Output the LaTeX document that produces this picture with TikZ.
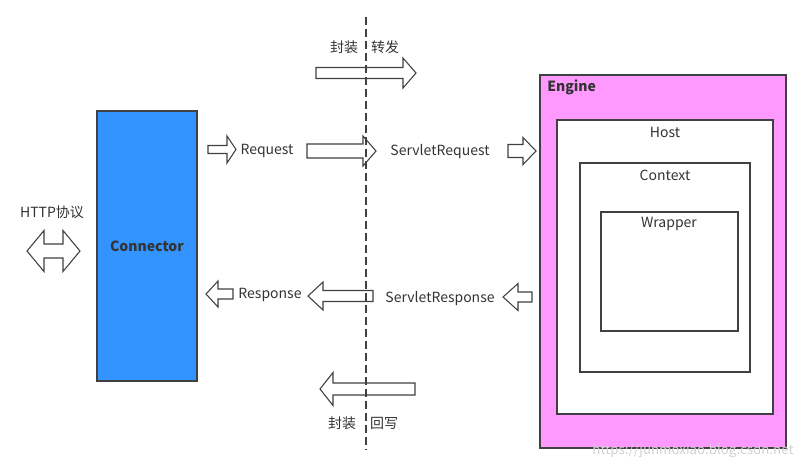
\documentclass[tikz,border=0pt]{standalone}
\usepackage{fontspec}
\setmainfont{Noto Sans CJK SC}
\usetikzlibrary{fit}
\definecolor{connblue}{HTML}{3393FF}
\definecolor{enginepink}{HTML}{FF99FF}
\definecolor{edgegray}{HTML}{404040}
\definecolor{txtgray}{HTML}{333333}
\newcommand{\blkarrow}[6]{%
  \draw[blockarr] (#1,{#4-#5}) -- (#2,{#4-#5}) -- (#2,{#4-#6}) -- (#3,#4) -- (#2,{#4+#6}) -- (#2,{#4+#5}) -- (#1,{#4+#5}) -- cycle;}
\begin{document}
\begin{tikzpicture}[x=0.75pt,y=-0.75pt,
  font=\fontsize{10.5pt}{12pt}\selectfont,
  box/.style={draw=edgegray,line width=1.1pt,inner sep=0pt},
  lbl/.style={text=txtgray,inner sep=0pt},
  blockarr/.style={draw=edgegray,line width=0.8pt,fill=white,line join=miter}]
\useasboundingbox (0,0) rectangle (812,469);
% boxes
\node[box,fill=connblue,fit={(97,111) (197,381)}] (conn) {};
\node[lbl,font=\fontsize{10.5pt}{12pt}\selectfont\bfseries] (connlbl) at (147,246) {Connector};
\node[box,fill=enginepink,fit={(540,75) (786,448)}] (engine) {};
\node[lbl,anchor=west,font=\fontsize{10.5pt}{12pt}\selectfont\bfseries] (enginelbl) at (547,87) {Engine};
\node[box,fill=white,fit={(557,120) (773,414)}] (host) {};
\node[lbl] (hostlbl) at (665,132) {Host};
\node[box,fill=white,fit={(580,163) (750,372)}] (context) {};
\node[lbl] (contextlbl) at (665,175) {Context};
\node[box,fill=white,fit={(601,212) (738,331)}] (wrapper) {};
\node[lbl] (wrapperlbl) at (669,224) {Wrapper};
% texts
\node[lbl] (http) at (52,212) {HTTP协议};
\node[lbl] (req) at (267,151) {Request};
\node[lbl] (sreq) at (440,152) {ServletRequest};
\node[lbl] (resp) at (270,295) {Response};
\node[lbl] (sresp) at (440,299) {ServletResponse};
\node[lbl] (fz1) at (344,47) {封装};
\node[lbl] (zf) at (385,47) {转发};
\node[lbl] (fz2) at (342,423) {封装};
\node[lbl] (hx) at (384,423) {回写};
% double arrow
\draw[blockarr] (27,251) -- (44,230.5) -- (44,244) -- (63,244) -- (63,230.5) -- (80,251)
  -- (63,271.5) -- (63,258) -- (44,258) -- (44,271.5) -- cycle;
% block arrows: tail, headbase, tip, ycenter, shaft half, head half
\blkarrow{316}{403}{416}{73}{5.5}{15}
\blkarrow{208}{227}{236}{149.5}{4}{13.5}
\blkarrow{307}{363}{376}{151}{7}{15}
\blkarrow{508}{523}{536}{151}{6.5}{13.5}
\blkarrow{532}{518}{503}{297}{5}{13.5}
\blkarrow{373}{323}{308}{296}{5.5}{14}
\blkarrow{233}{218}{206}{294}{5}{13}
\blkarrow{415}{333}{320}{389}{6}{16.5}
% dashed divider
\coordinate (dtop) at (366,17);
\coordinate (dbot) at (366,450);
\draw[edgegray,line width=1pt,dash pattern=on 6pt off 3pt] (dtop) -- (dbot);
% watermark
\node[text=black!18,font=\fontsize{10pt}{12pt}\selectfont] (wm) at (693,451) {https://junmoxiao.blog.csdn.net};
\end{tikzpicture}
\end{document}
